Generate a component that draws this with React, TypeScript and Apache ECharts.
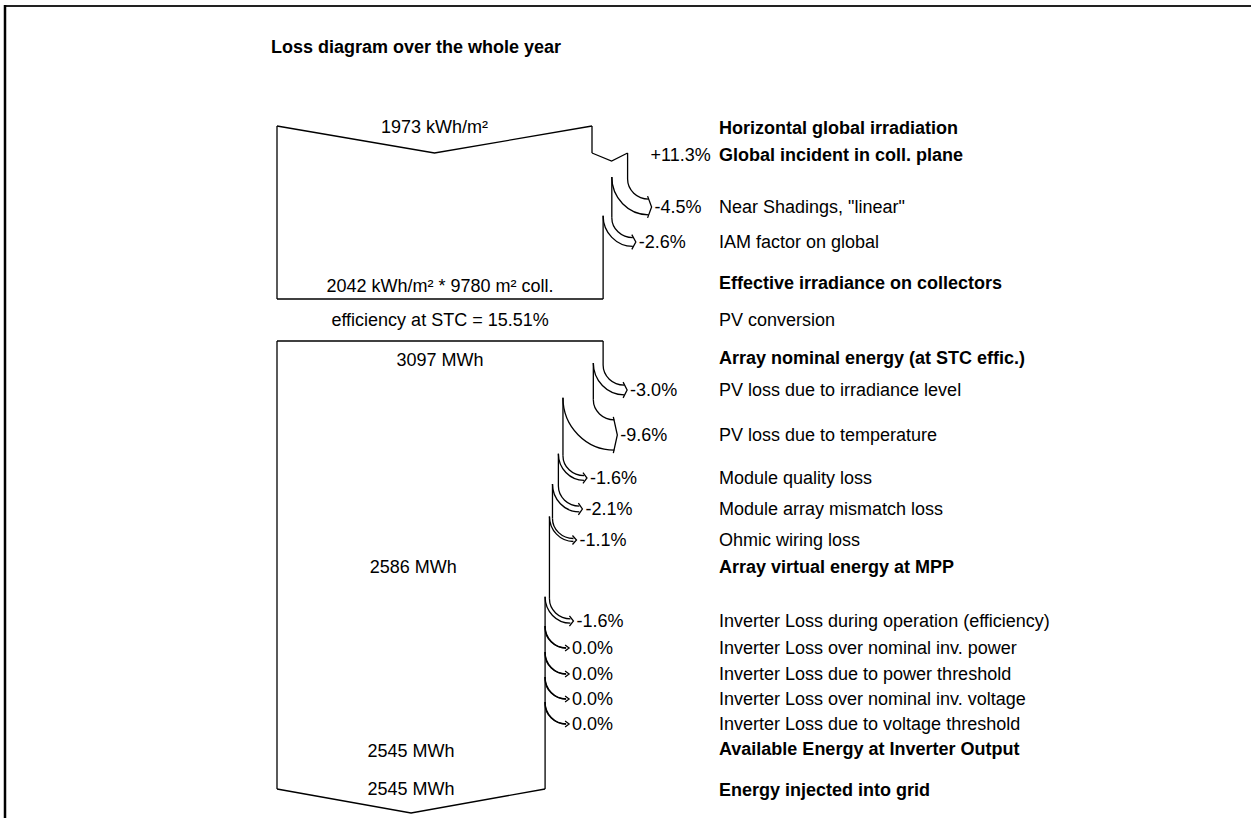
import React, { useEffect, useRef } from "react";
import * as echarts from "echarts";

// ---------------- DATA ----------------
const TITLE = "Loss diagram over the whole year";

const stepLabels: string[] = [
  "Horizontal global irradiation",
  "Global incident in coll. plane",
  'Near Shadings, "linear"',
  "IAM factor on global",
  "Effective irradiance on collectors",
  "PV conversion",
  "Array nominal energy (at STC effic.)",
  "PV loss due to irradiance level",
  "PV loss due to temperature",
  "Module quality loss",
  "Module array mismatch loss",
  "Ohmic wiring loss",
  "Array virtual energy at MPP",
  "Inverter Loss during operation (efficiency)",
  "Inverter Loss over nominal inv. power",
  "Inverter Loss due to power threshold",
  "Inverter Loss over nominal inv. voltage",
  "Inverter Loss due to voltage threshold",
  "Available Energy at Inverter Output",
  "Energy injected into grid",
];

// gain (+) / loss (-) in percent for each step, null = level / conversion row
const stepPercents: (number | null)[] = [
  null, 11.3, -4.5, -2.6, null, null, null,
  -3.0, -9.6, -1.6, -2.1, -1.1, null,
  -1.6, 0.0, 0.0, 0.0, 0.0, null, null,
];

const valueTexts: string[] = [
  "1973 kWh/m²", "", "", "", "2042 kWh/m² * 9780 m² coll.",
  "efficiency at STC = 15.51%", "3097 MWh", "", "", "", "", "",
  "2586 MWh", "", "", "", "", "", "2545 MWh", "2545 MWh",
];

const boldRows: number[] = [0, 1, 4, 6, 12, 18, 19];

// two boxes: irradiation (rows 0..4) and energy (rows 6..19)
const boxFirstRows: number[] = [0, 6];
const boxLastRows: number[] = [4, 19];

// relative widths (100 = horizontal global irradiation)
const widths: number[] = [];
stepPercents.forEach((p, i) => {
  if (i === 0) widths.push(100);
  else widths.push(widths[i - 1] * (1 + (p ?? 0) / 100));
});

const percentTexts = stepPercents.map((p) =>
  p == null ? "" : (p > 0 ? "+" : "") + p.toFixed(1) + "%"
);

// ---------------- LAYOUT ----------------
const ROW_Y = [128, 155, 207, 242, 283, 320, 358, 390, 435, 478, 509, 540, 567, 621, 648, 674, 699, 724, 749, 790];
const VALUE_DY = [-1, 0, 0, 0, 3, 0, 2, 0, 0, 0, 0, 0, 0, 0, 0, 0, 0, 0, 2, -1];
const LABEL_X = 719;
const BOX_TOP_DY = [-2, -17];
const BOX_BOT_DY = [16, -1];
const TOP_DIP = 27;
const BOTTOM_DIP = 24;
const CURVE_DROP = 20;
const ARROW_REACH = 21;
const PCT_GAP_LOSS = 27;
const PCT_GAP_GAIN = 23;
const NOTCH_DEPTH = 8;
const FONT = '"Liberation Sans", Arial, sans-serif';
const FONT_SIZE = 18;
const INK = "#000";
const LW = 1.3;

function lineEl(x1: number, y1: number, x2: number, y2: number) {
  return { type: "line", shape: { x1, y1, x2, y2 }, style: { stroke: INK, lineWidth: LW, fill: "none" } };
}
function polyEl(points: number[][]) {
  return { type: "polyline", shape: { points }, style: { stroke: INK, lineWidth: LW, fill: "none" } };
}
function curveEl(sx: number, sy: number, ex: number, ey: number) {
  return {
    type: "bezierCurve",
    shape: {
      x1: sx, y1: sy, x2: ex, y2: ey,
      cpx1: sx, cpy1: sy + 0.55 * (ey - sy),
      cpx2: ex - 0.55 * (ex - sx), cpy2: ey,
    },
    style: { stroke: INK, lineWidth: LW, fill: "none" },
  };
}
function textEl(text: string, x: number, y: number, align: string, bold: boolean) {
  return {
    type: "text",
    x, y,
    style: {
      text,
      fill: INK,
      fontSize: FONT_SIZE,
      fontFamily: FONT,
      fontWeight: bold ? "bold" : "normal",
      align, verticalAlign: "middle",
      textAlign: align, textVerticalAlign: "middle",
    },
  };
}

function buildPieces(api: any) {
  const X = (u: number) => api.coord([u, 0])[0];
  const Y = (v: number) => api.coord([0, v])[1];
  const pieces: any[][] = stepLabels.map(() => []);
  const x0 = X(0);

  boxFirstRows.forEach((first, b) => {
    const last = boxLastRows[b];
    const topY = Y(ROW_Y[first]) + BOX_TOP_DY[b];
    const botY = Y(ROW_Y[last]) + BOX_BOT_DY[b];
    const wTop = X(widths[first]);
    if (b === 0) {
      pieces[first].push(polyEl([[x0, topY], [(x0 + wTop) / 2, topY + TOP_DIP], [wTop, topY]]));
    } else {
      pieces[first].push(lineEl(x0, topY, wTop, topY));
    }
    pieces[first].push(lineEl(x0, topY, x0, botY));
    let curX = wTop;
    let edgeTop = topY;
    for (let r = first + 1; r <= last; r++) {
      const p = stepPercents[r];
      if (p == null) continue;
      const newX = X(widths[r]);
      const yL = Y(ROW_Y[r]);
      if (p > 0) {
        const gy = yL - 2;
        pieces[r].push(lineEl(curX, edgeTop, curX, gy));
        pieces[r].push(polyEl([[curX, gy], [curX + 0.55 * (newX - curX), gy + NOTCH_DEPTH], [newX, gy]]));
        pieces[r].push(textEl(percentTexts[r], newX + PCT_GAP_GAIN, yL, "left", false));
        curX = newX;
        edgeTop = gy;
      } else {
        const lw = curX - newX;
        const yc = yL - lw / 2 - CURVE_DROP;
        const xa = curX + ARROW_REACH;
        pieces[r].push(lineEl(curX, edgeTop, curX, yc));
        pieces[r].push(curveEl(curX, yc, xa, yL - lw / 2));
        pieces[r].push(curveEl(newX, yc - 2, xa, yL + lw / 2));
        pieces[r].push(polyEl([[xa - 1, yL - lw / 2 - 3], [xa + 3, yL], [xa - 1, yL + lw / 2 + 3]]));
        pieces[r].push(textEl(percentTexts[r], curX + PCT_GAP_LOSS, yL, "left", false));
        curX = newX;
        edgeTop = yc - 2;
      }
    }
    pieces[last].push(lineEl(curX, edgeTop, curX, botY));
    if (b === 0) {
      pieces[last].push(lineEl(x0, botY, curX, botY));
    } else {
      pieces[last].push(polyEl([[x0, botY], [(x0 + curX) / 2, botY + BOTTOM_DIP], [curX, botY]]));
    }
  });

  stepLabels.forEach((label, r) => {
    const yL = Y(ROW_Y[r]);
    pieces[r].push(textEl(label, LABEL_X, yL, "left", boldRows.includes(r)));
    if (valueTexts[r]) {
      const cx = (x0 + X(widths[r])) / 2;
      pieces[r].push(textEl(valueTexts[r], cx, yL + VALUE_DY[r], "center", false));
    }
  });
  return pieces;
}

export default function App() {
  const ref = useRef<HTMLDivElement>(null);
  useEffect(() => {
    if (!ref.current) return;
    const chart = echarts.init(ref.current, undefined, { renderer: "svg" });
    chart.setOption({
      animation: false,
      backgroundColor: "#fff",
      grid: { left: 277, top: 0, width: 630, height: 818 },
      xAxis: { type: "value", min: 0, max: 200, show: false },
      yAxis: { type: "value", min: 0, max: 818, inverse: true, show: false },
      graphic: [
        { type: "line", shape: { x1: 4, y1: 6, x2: 1251, y2: 6 }, style: { stroke: "#222", lineWidth: 2 } },
        { type: "line", shape: { x1: 5, y1: 5, x2: 5, y2: 818 }, style: { stroke: "#000", lineWidth: 2.5 } },
        {
          type: "text", x: 416, y: 47,
          style: {
            text: TITLE, fill: INK, fontSize: FONT_SIZE, fontWeight: "bold", fontFamily: FONT,
            align: "center", verticalAlign: "middle", textAlign: "center", textVerticalAlign: "middle",
          },
        },
      ],
      series: [
        {
          type: "custom",
          coordinateSystem: "cartesian2d",
          silent: true,
          data: stepLabels.map((_, i) => [widths[i], ROW_Y[i]]),
          renderItem: (params: any, api: any) => {
            const pieces = buildPieces(api);
            return { type: "group", children: pieces[params.dataIndex] };
          },
        },
      ],
    });
    return () => chart.dispose();
  }, []);
  return (
    <div
      ref={ref}
      style={{ position: "absolute", left: 0, top: 0, width: 1251, height: 818, background: "#fff" }}
    />
  );
}
